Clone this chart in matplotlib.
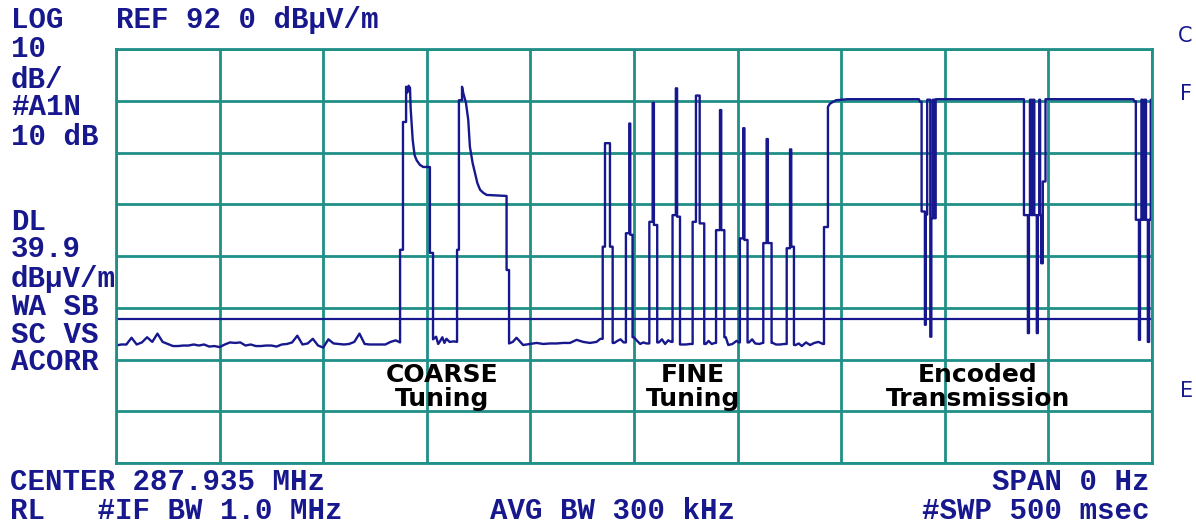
import numpy as np
import matplotlib.pyplot as plt

# Zero-span sweep, 500 ms across 10 divisions, REF 92 dBuV/m at 10 dB/div
ref_level = 92.0
bottom_level = 12.0
sweep_ms = 500.0
dl_level = 39.9

# noise floor before the first burst, one sample every 2.5 ms
floor_t = np.arange(0, 137.5, 2.5)
floor_db = [34.7, 34.9, 34.9, 36.2, 34.9, 35.3, 36.3, 35.4, 37.0, 35.4,
            35.0, 34.6, 34.6, 34.7, 34.7, 34.9, 34.7, 34.9, 34.5, 34.6,
            34.4, 34.9, 35.3, 35.2, 35.3, 34.7, 34.9, 34.6, 34.6, 34.7,
            34.7, 34.5, 34.9, 35.0, 35.3, 36.6, 34.9, 35.1, 36.0, 34.7,
            34.3, 35.9, 35.1, 35.0, 34.9, 35.0, 35.4, 37.0, 35.0, 34.9,
            34.9, 34.9, 34.9, 35.4, 35.7]

# coarse tuning: two bursts with a decaying tail
coarse_t = [137.1, 137.1, 138.5, 138.5, 140.0, 140.0, 140.6, 141.2, 141.9, 142.2,
            143.2, 144.1, 145.1, 146.7, 148.3, 151.5, 151.5, 153.0, 153.0, 154.5,
            155.5, 156.5, 157.5, 158.5, 159.5, 161.0, 163.0, 164.6, 164.6, 165.5,
            165.5, 167.0, 167.0, 167.6, 168.9, 170.0, 170.8, 172.1, 173.3, 174.4,
            175.7, 177.3, 178.9, 188.5, 188.5, 189.7, 189.7]
coarse_db = [35.3, 53.2, 53.2, 77.9, 77.9, 84.7, 83.6, 84.9, 84.5, 80.6,
             74.4, 71.5, 70.5, 69.6, 69.2, 69.2, 52.6, 52.6, 35.9, 36.4,
             35.0, 35.6, 36.3, 35.2, 36.0, 35.4, 35.5, 35.4, 53.2, 53.2,
             82.1, 82.1, 84.7, 83.5, 81.6, 78.3, 73.1, 70.0, 68.0, 66.1,
             64.8, 64.2, 63.8, 63.6, 49.3, 49.3, 35.1]

# quiet stretch between coarse and fine tuning
quiet_t = [191.5, 193.3, 196.5, 199.8, 203.0, 206.2, 209.4, 212.6, 215.9, 219.1,
           222.3, 225.5, 228.7, 231.9, 233.8]
quiet_db = [35.4, 36.2, 34.8, 35.0, 35.2, 35.0, 35.1, 35.1, 35.2, 35.2,
            35.8, 35.4, 35.2, 35.4, 36.0]

# fine tuning: nine pulses, pedestal plus a narrow spike
fine_rise = [234.9, 246.1, 257.4, 268.6, 278.3, 289.6, 301.1, 312.4, 323.7]
fine_spike_on = [236.0, 247.7, 259.0, 270.2, 279.9, 291.5, 302.7, 314.0, 325.3]
fine_spike_off = [238.4, 248.2, 259.6, 270.8, 281.7, 292.1, 303.3, 314.6, 325.9]
fine_fall = [239.7, 249.3, 261.2, 272.2, 283.9, 293.6, 304.8, 316.4, 327.2]
fine_ped_on = [53.8, 56.4, 58.6, 59.9, 58.6, 57.0, 55.4, 54.5, 53.5]
fine_peak = [73.8, 77.6, 81.6, 84.4, 83.0, 80.2, 76.7, 74.6, 72.6]
fine_ped_off = [53.8, 56.1, 58.0, 59.6, 58.3, 57.0, 55.1, 54.5, 53.8]

fine_floor_t = [240.5, 242.0, 243.5, 245.0,
                250.0, 251.5, 253.0, 254.5, 256.0,
                262.0, 263.5, 265.0, 266.5, 268.0,
                273.0, 275.0, 277.0,
                284.7, 286.0, 287.5, 289.0,
                294.3, 295.5, 297.5, 299.5, 300.6,
                305.5, 307.0, 308.5, 310.5, 312.0,
                317.0, 318.5, 320.5, 322.5,
                328.0, 329.5, 331.0, 333.0, 335.0, 337.0, 339.0, 341.2]
fine_floor_db = [35.2, 35.6, 35.9, 35.3,
                 36.3, 35.6, 35.0, 35.3, 35.1,
                 35.3, 35.9, 35.0, 35.7, 35.4,
                 34.9, 34.9, 35.0,
                 35.0, 35.6, 35.0, 35.2,
                 36.3, 34.8, 35.0, 35.6, 35.3,
                 35.3, 35.9, 35.1, 35.0, 35.2,
                 35.2, 34.9, 34.9, 35.0,
                 34.8, 35.1, 34.6, 35.3, 34.8, 35.2, 35.4, 35.0]

# encoded transmission: carrier on with three clusters of drop-outs
enc_t = [341.7, 341.7, 343.6, 343.6, 344.5, 346.1, 347.5, 353.0, 387.5, 388.0,
         388.8, 388.8, 390.4, 390.4, 390.8, 390.8, 391.5, 391.5, 393.0, 393.0,
         393.5, 393.5, 394.2, 394.2, 394.8, 394.8, 395.6, 395.6, 437.8, 438.2,
         438.2, 440.1, 440.1, 440.6, 440.6, 441.1, 441.1, 441.8, 441.8, 442.5,
         442.5, 443.2, 443.2, 444.4, 444.4, 444.9, 444.9, 445.6, 445.6, 446.0,
         446.0, 446.5, 446.5, 447.3, 447.3, 448.6, 448.6, 491.0, 491.5, 492.2,
         492.2, 493.7, 493.7, 494.2, 494.2, 494.9, 494.9, 495.6, 495.6, 496.4,
         496.4, 497.1, 497.1, 498.0, 498.0, 498.6, 498.6, 499.4, 499.4, 500.0]
enc_db = [35.0, 57.6, 57.6, 80.8, 81.4, 81.8, 82.1, 82.3, 82.3, 81.8,
          81.8, 60.6, 60.6, 38.7, 38.7, 60.0, 60.0, 82.2, 82.2, 36.4,
          36.4, 59.3, 59.3, 82.2, 82.2, 59.3, 59.3, 82.3, 82.3, 82.3,
          59.9, 59.9, 37.1, 37.1, 59.9, 59.9, 82.2, 82.2, 59.9, 59.9,
          82.2, 82.2, 59.9, 59.9, 37.1, 37.1, 59.9, 59.9, 82.2, 82.2,
          59.9, 59.9, 50.6, 50.6, 66.4, 66.4, 82.3, 82.3, 81.9, 81.9,
          59.0, 59.0, 35.8, 35.8, 59.0, 59.0, 82.2, 82.2, 59.0, 59.0,
          82.2, 82.2, 59.0, 59.0, 35.4, 35.4, 59.0, 59.0, 82.2, 82.2]

section_labels = ["COARSE\nTuning", "FINE\nTuning", "Encoded\nTransmission"]
section_centres = [157.3, 278.5, 416.0]

left_labels = ["10", "dB/", "#A1N", "10 dB", "DL", "39.9", "dB\u00b5V/m",
               "WA SB", "SC VS", "ACORR"]
left_baselines = [57, 88, 115, 145, 230, 257, 287, 315, 343, 370]

# assemble the fine tuning section from the pulse table
fine_t, fine_db = [], []
level_before = quiet_db[-1]
next_start = fine_rise[1:] + [enc_t[0]]
for i in range(len(fine_rise)):
    gap = [(t, d) for t, d in zip(fine_floor_t, fine_floor_db)
           if fine_fall[i] < t < next_start[i]]
    fine_t += [fine_rise[i], fine_rise[i], fine_spike_on[i], fine_spike_on[i],
               fine_spike_off[i], fine_spike_off[i], fine_fall[i], fine_fall[i]]
    fine_db += [level_before, fine_ped_on[i], fine_ped_on[i], fine_peak[i],
                fine_peak[i], fine_ped_off[i], fine_ped_off[i], gap[0][1]]
    fine_t += [g[0] for g in gap]
    fine_db += [g[1] for g in gap]
    level_before = gap[-1][1]

trace_t = list(floor_t) + coarse_t + quiet_t + fine_t + enc_t
trace_db = list(floor_db) + coarse_db + quiet_db + fine_db + enc_db

W, H = 1196, 525
NAVY = '#18188e'
TEAL = '#1f8f88'

fig = plt.figure(figsize=(W / 100, H / 100), dpi=100)
ax = fig.add_axes([116 / W, 1 - 463 / H, (1152 - 116) / W, (463 - 49) / H])
ax.set_xlim(0, sweep_ms)
ax.set_ylim(bottom_level, ref_level)
ax.set_xticks(np.arange(0, sweep_ms + 1, 50))
ax.set_yticks(np.arange(bottom_level, ref_level + 1, 10))
ax.tick_params(length=0, labelbottom=False, labelleft=False)
ax.grid(True, color=TEAL, lw=2.0)
ax.set_axisbelow(True)
for sp in ax.spines.values():
    sp.set_color(TEAL)
    sp.set_linewidth(2.0)

ax.axhline(dl_level, color=NAVY, lw=1.6)
ax.plot(trace_t, trace_db, color=NAVY, lw=1.7)

# section labels, two lines each, set tight like the screen capture
for s, x in zip(section_labels, section_centres):
    ax.text(x, 23.0, s, ha='center', va='baseline', multialignment='center',
            fontfamily='DejaVu Sans', fontweight='bold', fontsize=18,
            color='black', linespacing=1.0)

# instrument annotations around the graticule
mono = dict(fontfamily='Liberation Mono', fontweight='bold', fontsize=21,
            color=NAVY, va='baseline')


def put(x, y, s, **kw):
    fig.text(x / W, 1 - y / H, s, **{**mono, **kw})


put(11, 28, "LOG")
put(116, 28, "REF 92 0 dB\u00b5V/m")
for s, y in zip(left_labels, left_baselines):
    put(11, y, s)
put(10, 490, "CENTER 287.935 MHz")
put(10, 519, "RL   #IF BW 1.0 MHz")
put(490, 519, "AVG BW 300 kHz")
put(1150, 490, "SPAN 0 Hz", ha='right')
put(1150, 519, "#SWP 500 msec", ha='right')

# softkey letters peeking in at the right edge
side = dict(fontfamily='DejaVu Sans', fontsize=15, color=NAVY, va='baseline')
fig.text(1178 / W, 1 - 42 / H, "C", **side)
fig.text(1180 / W, 1 - 100 / H, "F", **side)
fig.text(1180 / W, 1 - 397 / H, "E", **side)

fig.savefig("out.png", dpi=100)
